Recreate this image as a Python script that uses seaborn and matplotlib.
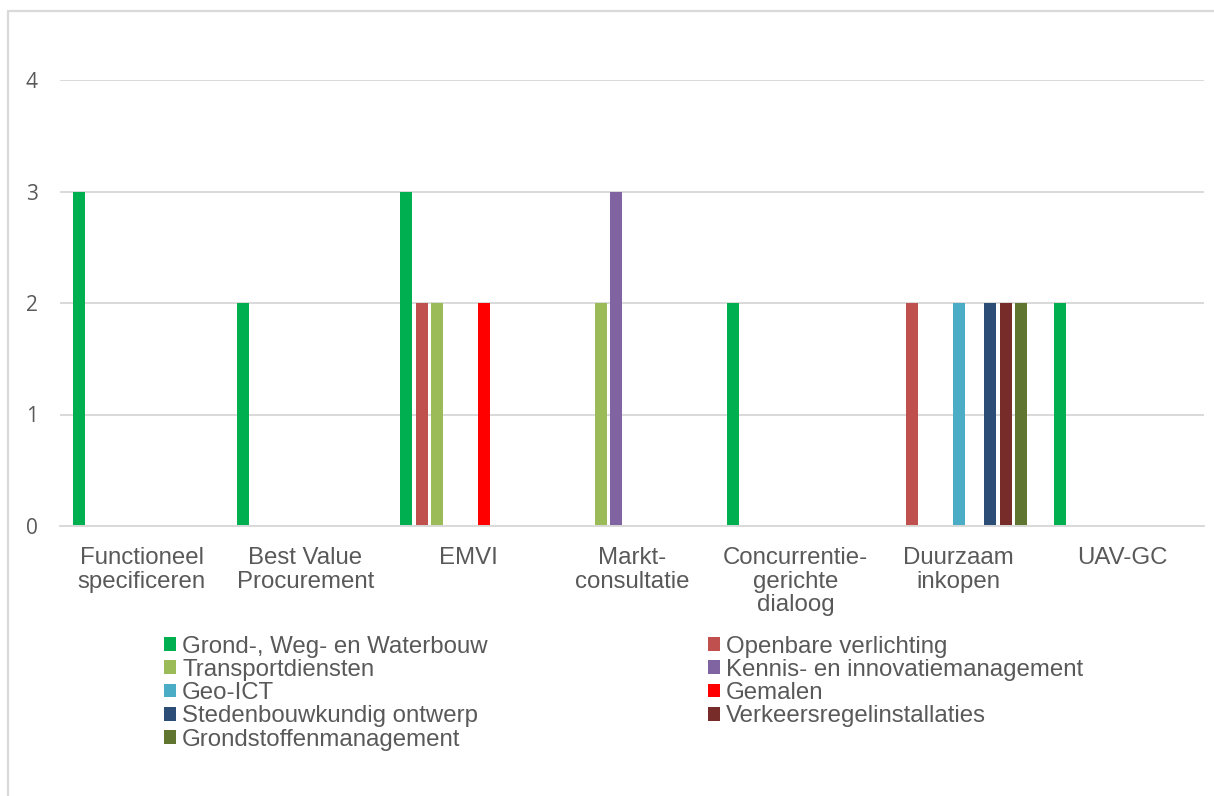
import numpy as np
import pandas as pd
import matplotlib
matplotlib.use("Agg")
import matplotlib.pyplot as plt
from matplotlib.patches import Patch
from matplotlib.lines import Line2D
import seaborn as sns

categories = ["Functioneel\nspecificeren", "Best Value\nProcurement", "EMVI",
              "Markt-\nconsultatie", "Concurrentie-\ngerichte\ndialoog",
              "Duurzaam\ninkopen", "UAV-GC"]
series = ["Grond-, Weg- en Waterbouw", "Openbare verlichting", "Transportdiensten",
          "Kennis- en innovatiemanagement", "Geo-ICT", "Gemalen",
          "Stedenbouwkundig ontwerp", "Verkeersregelinstallaties",
          "Grondstoffenmanagement"]
grond = [3, 2, 3, 0, 2, 0, 2]
openbare = [0, 0, 2, 0, 0, 2, 0]
transport = [0, 0, 2, 2, 0, 0, 0]
kennis = [0, 0, 0, 3, 0, 0, 0]
geo_ict = [0, 0, 0, 0, 0, 2, 0]
gemalen = [0, 0, 2, 0, 0, 0, 0]
steden = [0, 0, 0, 0, 0, 2, 0]
verkeer = [0, 0, 0, 0, 0, 2, 0]
grondstof = [0, 0, 0, 0, 0, 2, 0]
colors = ["#00B050", "#C0504D", "#9BBB59", "#8064A2", "#4BACC6", "#FF0000",
          "#2C4D75", "#772C2A", "#5F7530"]
yticks = [0, 1, 2, 3, 4]

values = [grond, openbare, transport, kennis, geo_ict, gemalen, steden, verkeer, grondstof]
rows = []
for s, vals in zip(series, values):
    for c, v in zip(categories, vals):
        rows.append({"cat": c, "series": s, "value": v})
df = pd.DataFrame(rows)

sns.set_style("white")
plt.rcParams["font.family"] = ["Liberation Sans", "DejaVu Sans"]
TXT = "#595959"
GRID = "#D9D9D9"
FS = 17.3

fig = plt.figure(figsize=(12.14, 7.96), dpi=100)
ax = fig.add_axes([60 / 1214, 1 - 526 / 796, 1144 / 1214, 446 / 796])

sns.barplot(data=df, x="cat", y="value", hue="series", order=categories,
            hue_order=series, palette=colors, width=0.86, gap=0.23,
            linewidth=0, legend=False, ax=ax, errorbar=None, saturation=1)

ax.set_xlim(-0.5, len(categories) - 0.5)
ax.set_ylim(0, 4)
ax.set_yticks(yticks)
ax.set_yticklabels([str(t) for t in yticks], fontsize=15, color=TXT,
                   family=["Open Sans", "DejaVu Sans"])
ax.tick_params(axis="y", length=0, pad=16)
ax.tick_params(axis="x", length=0, pad=15, labelsize=FS, labelcolor=TXT)
for lbl in ax.get_xticklabels():
    lbl.set_linespacing(1.1)
ax.set_xlabel("")
ax.set_ylabel("")
ax.grid(axis="y", color=GRID, linewidth=1.4)
ax.set_axisbelow(True)
for sp in ["top", "right", "left"]:
    ax.spines[sp].set_visible(False)
ax.spines["bottom"].set_color(GRID)
ax.spines["bottom"].set_linewidth(1.4)

order = [0, 2, 4, 6, 8, 1, 3, 5, 7]
handles = [Patch(facecolor=colors[i], edgecolor="none", label=series[i]) for i in order]
fig.legend(handles=handles, ncol=2, loc="upper left",
           bbox_to_anchor=(164 / 1214, 1 - 635.5 / 796), frameon=False,
           fontsize=FS, labelcolor=TXT, handlelength=0.5, handleheight=0.5,
           handletextpad=0.25, columnspacing=9.15, labelspacing=0.055,
           borderpad=0, borderaxespad=0)

fig.add_artist(Line2D([8 / 1214, 1], [1 - 11 / 796, 1 - 11 / 796], color=GRID, linewidth=1.6))
fig.add_artist(Line2D([8 / 1214, 8 / 1214], [0, 1 - 11 / 796], color=GRID, linewidth=1.6))

fig.savefig("out.png", dpi=100, facecolor="white")
